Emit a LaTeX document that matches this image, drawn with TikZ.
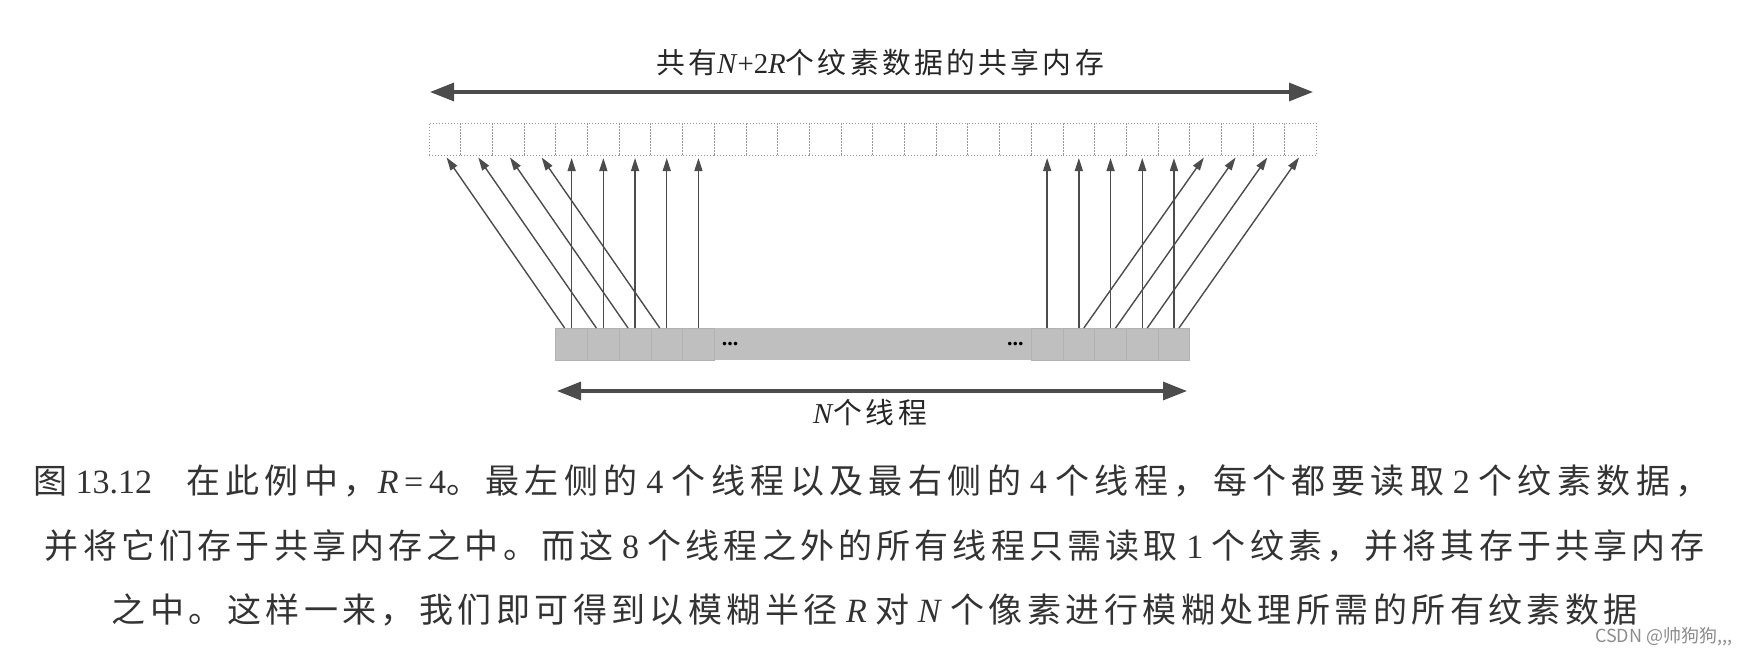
\documentclass[tikz,border=0pt]{standalone}
\usepackage{fontspec}
\setmainfont{Liberation Serif}
\newfontfamily\cjk[LetterSpace=11.6]{Noto Sans CJK SC}
\newfontfamily\capA[LetterSpace=16]{Noto Sans CJK SC}
\newfontfamily\capB[LetterSpace=12.3]{Noto Sans CJK SC}
\newfontfamily\capC[LetterSpace=13]{Noto Sans CJK SC}
\newfontfamily\cjkmark{Noto Sans CJK SC}
\usetikzlibrary{arrows.meta}
\newcommand\capfont{\fontsize{17pt}{20pt}\selectfont}
\newcommand\lblfont{\fontsize{14.4pt}{16pt}\selectfont}

\begin{document}
\begin{tikzpicture}[x=0.5pt,y=0.5pt]
	\tikzstyle{every node}+=[inner sep=0pt,outer sep=0pt]
	\tikzstyle{texel}=[draw=black!40,densely dotted,line width=0.5pt,minimum width=15.85pt,minimum height=16pt]
	\tikzstyle{thread}=[fill=black!25,minimum width=15.85pt,minimum height=16pt]
	\tikzstyle{fetch}=[draw=black!70,line width=0.7pt,-{Triangle[length=6.5pt,width=4pt]},shorten >=1.5pt]
	\tikzstyle{spanarrow}=[draw=black!70,line width=1.6pt,{Triangle[length=12pt,width=9pt]}-{Triangle[length=12pt,width=9pt]}]
	\tikzstyle{capline}=[anchor=west,text=black!80]
	\useasboundingbox (0,0) rectangle (1747,-654);
	% shared memory: N+2R texels
	\foreach \i in {0,...,27}
		\node[texel] (t\i) at (444.85+31.7*\i,-139) {};
	% threads
	\foreach \i in {5,...,14}
		\node[thread] (b\i) at (571.65+31.7*\i,-344) {};
	\foreach \i in {0,1,2,3,4,15,16,17,18,19}
		\node[thread,draw=black!30] (b\i) at (571.65+31.7*\i,-344) {};
	\node at (b5) {\fontsize{11pt}{11pt}\selectfont\textbf{...}};
	\node at (b14) {\fontsize{11pt}{11pt}\selectfont\textbf{...}};
	% one texel per thread
	\foreach \i [evaluate=\i as \j using int(\i+4)] in {0,1,2,3,4,15,16,17,18,19}
		\draw[fetch] (b\i.north) -- (t\j.south);
	% the halo texels
	\foreach \i in {0,...,3}
		\draw[fetch] ([xshift=-3.5pt]b\i.north) -- (t\i.south);
	\foreach \i [evaluate=\i as \j using int(\i+8)] in {16,...,19}
		\draw[fetch] ([xshift=2.5pt]b\i.north) -- (t\j.south);
	% widths
	\coordinate (memL) at (430,-92);
	\coordinate (memR) at (1313,-92);
	\coordinate (thrL) at (557,-391);
	\coordinate (thrR) at (1187,-391);
	\draw[spanarrow] (memL) -- (memR);
	\draw[spanarrow] (thrL) -- (thrR);
	\node[text=black!85] (memlabel) at (880,-62) {\lblfont{\cjk 共有}\textit{N}+2\textit{R}{\cjk 个纹素数据的共享内存}};
	\node[text=black!85] (thrlabel) at (870,-413) {\lblfont\textit{N}{\cjk 个线程}};
	% caption
	\node[capline] (cap1) at (33,-481) {\capfont{\capA 图} 13.12\quad{\capA 在此例中，}\textit{R}\,=\,4{\capA 。最左侧的} 4 {\capA 个线程以及最右侧的} 4 {\capA 个线程，每个都要读取} 2 {\capA 个纹素数据，}};
	\node[capline] (cap2) at (45,-546) {\capfont{\capB 并将它们存于共享内存之中。而这} 8 {\capB 个线程之外的所有线程只需读取} 1 {\capB 个纹素，并将其存于共享内存}};
	\node[capline] (cap3) at (112,-610) {\capfont{\capC 之中。这样一来，我们即可得到以模糊半径} \textit{R} {\capC 对} \textit{N} {\capC 个像素进行模糊处理所需的所有纹素数据}};
	\node[anchor=west,text=black!45] (mark) at (1595,-637) {\fontsize{9pt}{10pt}\selectfont\cjkmark CSDN @帅狗狗,,,};
\end{tikzpicture}
\end{document}
